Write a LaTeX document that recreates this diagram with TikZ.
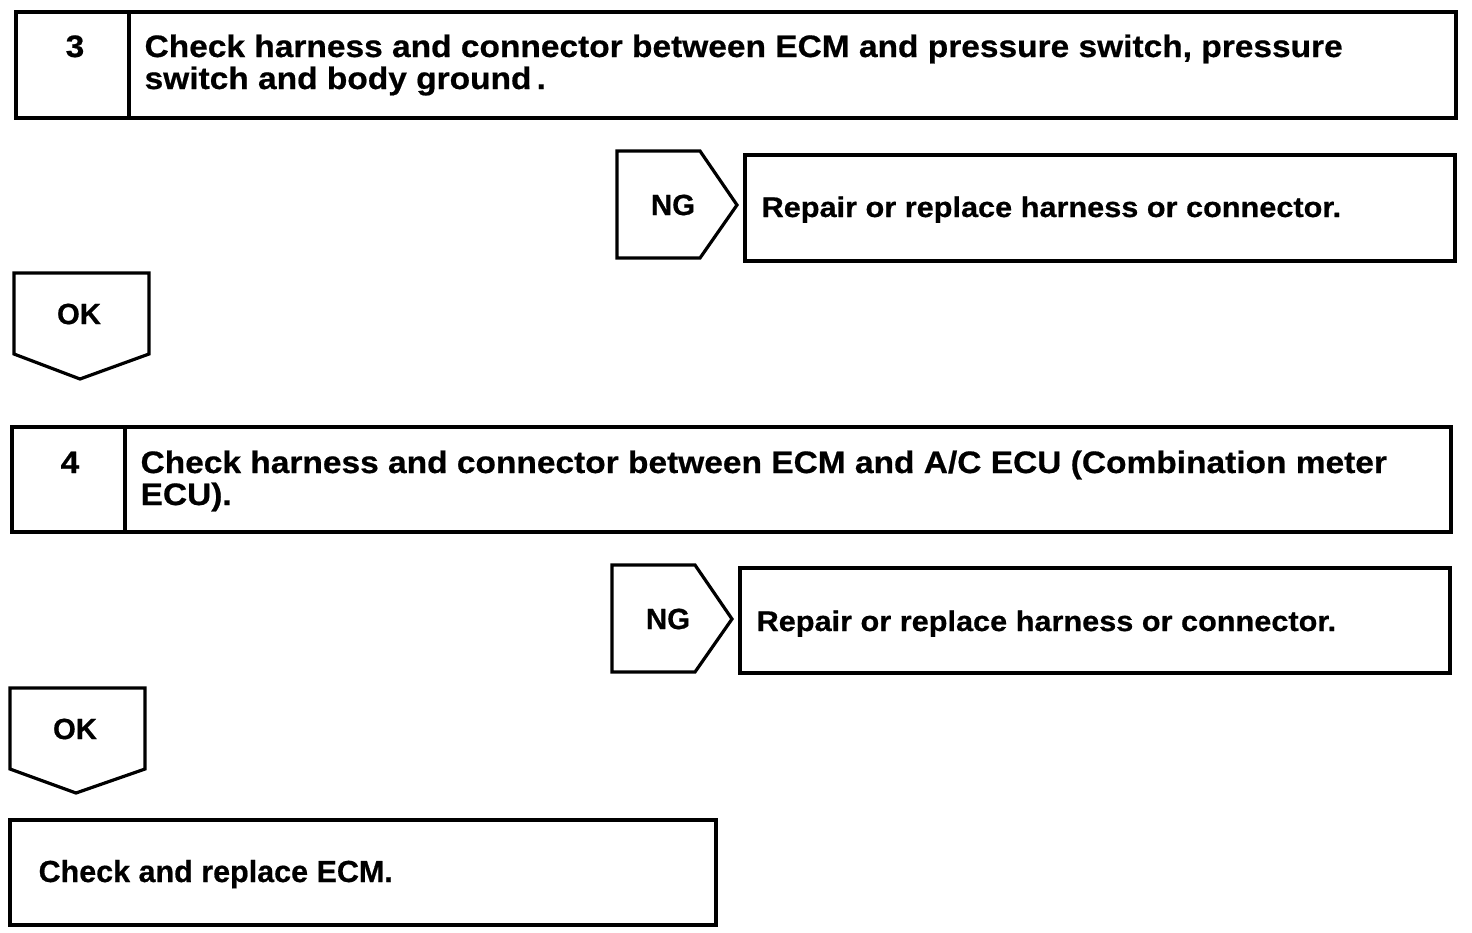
\documentclass[tikz,border=0pt]{standalone}
\usepackage{fontspec}
\setmainfont{Liberation Sans}
\newfontfamily\hdfont[FakeStretch=1.08,FakeBold=0.6]{Liberation Sans Bold}
\newfontfamily\lbfont[FakeBold=0.6]{Liberation Sans Bold}
\usepackage{tikz}
\usetikzlibrary{calc,positioning}

\begin{document}
\begin{tikzpicture}[x=1pt,y=-1pt,line width=3.2pt,line join=miter,
		head/.style={anchor=base west,font=\hdfont\fontsize{31}{32}\selectfont,inner sep=0pt},
		num/.style={anchor=base,font=\hdfont\fontsize{31}{32}\selectfont,inner sep=0pt},
		act/.style={anchor=base west,font=\hdfont\fontsize{28.4}{30}\selectfont,inner sep=0pt},
		tag/.style={font=\lbfont\fontsize{29.3}{30}\selectfont,inner sep=0pt}]
		\useasboundingbox (0,0) rectangle (1472,932);
		\draw (16,12) rectangle (1456,118);
		\draw (129,12) -- (129,118);
		\node[num] (n3) at (75,57) {3};
		\node[head] (t3a) at (143,57) {Check harness and connector between ECM and pressure switch, pressure};
		\node[head] (t3b) at (143,89) {switch and body ground\,.};
		\draw (617,151) -- (700,151) -- (737,205) -- (700,258) -- (617,258) -- cycle;
		\node[tag] (ng3) at (673,205) {NG};
		\draw (745,155) rectangle (1455,261);
		\node[act] (r3) at (760,217) {Repair or replace harness or connector.};
		\draw (14,273) -- (149,273) -- (149,354) -- (80,379) -- (14,354) -- cycle;
		\node[tag] (ok3) at (79,314) {OK};
		\draw (12,427) rectangle (1451,532);
		\draw (125,427) -- (125,532);
		\node[num] (n4) at (70,473) {4};
		\node[head] (t4a) at (139,473) {Check harness and connector between ECM and A/C ECU (Combination meter};
		\node[head] (t4b) at (139,505) {ECU).};
		\draw (612,565) -- (695,565) -- (732,619) -- (695,672) -- (612,672) -- cycle;
		\node[tag] (ng4) at (668,619) {NG};
		\draw (740,568) rectangle (1450,673);
		\node[act] (r4) at (755,631) {Repair or replace harness or connector.};
		\draw (10,688) -- (145,688) -- (145,769) -- (76,793) -- (10,769) -- cycle;
		\node[tag] (ok4) at (75,729) {OK};
		\draw (10,820) rectangle (716,925);
		\node[anchor=base west,font=\lbfont\fontsize{30.5}{32}\selectfont,inner sep=0pt] (ecm) at (37,882) {Check and replace ECM.};
\end{tikzpicture}
\end{document}
